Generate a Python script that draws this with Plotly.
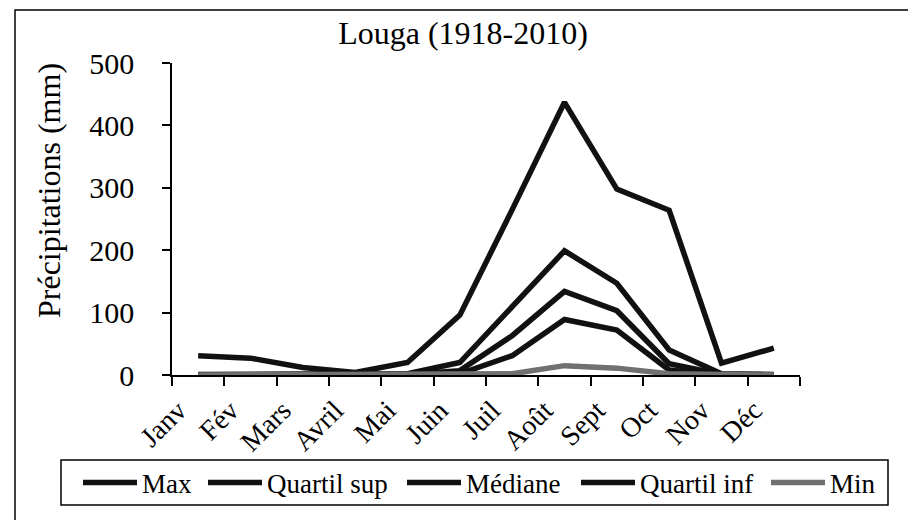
import plotly.graph_objects as go

months = ["Janv", "Fév", "Mars", "Avril", "Mai", "Juin", "Juil", "Août", "Sept", "Oct", "Nov", "Déc"]
max_vals = [31, 27, 12, 4, 20, 96, 265, 437, 298, 264, 19, 43]
q_sup_vals = [1, 1, 1, 0, 2, 20, 108, 199, 147, 40, 2, 1]
median_vals = [0, 0, 0, 0, 1, 7, 63, 134, 103, 18, 1, 0]
q_inf_vals = [0, 0, 0, 0, 0, 2, 31, 89, 72, 8, 0, 0]
min_vals = [0, 0, 0, 0, 0, 0, 2, 15, 11, 2, 0, 0]

series_names = ["Max", "Quartil sup", "Médiane", "Quartil inf", "Min"]
series_vals = [max_vals, q_sup_vals, median_vals, q_inf_vals, min_vals]
series_colors = ["#111111", "#111111", "#111111", "#111111", "#707070"]
legend_ids = ["legend", "legend2", "legend3", "legend4", "legend5"]
legend_left_px = [78, 203, 402, 576, 766]

FONT = "Times New Roman"

# page body has an 8px margin: figure is drawn 8px in and down
OFF = 8
W, H = 916 - OFF, 520 - OFF
L, T = 172 - OFF, 63 - OFF
R = W - (800 - OFF)
B = H - (375 - OFF)
pw, ph = W - L - R, H - T - B

def px(xr):
    return (xr - OFF - L) / pw

def py(yr):
    return (H - B - (yr - OFF)) / ph

fig = go.Figure()
for name, vals, col, lid in zip(series_names, series_vals, series_colors, legend_ids):
    fig.add_trace(go.Scatter(
        x=months, y=vals, name=name, mode="lines", legend=lid,
        line=dict(color=col, width=5.5),
    ))

legend_layouts = {}
for lid, lx in zip(legend_ids, legend_left_px):
    legend_layouts[lid] = dict(
        orientation="h", x=px(lx), xanchor="left", y=py(483), yanchor="middle",
        borderwidth=0, bgcolor="rgba(0,0,0,0)",
        font=dict(family=FONT, size=27, color="black"),
        itemwidth=54,
    )

fig.update_layout(
    width=W, height=H,
    margin=dict(l=L, r=R, t=T, b=B, autoexpand=False),
    paper_bgcolor="white", plot_bgcolor="white",
    font=dict(family=FONT, color="black", size=27),
    title=dict(text="Louga (1918-2010)", x=(463 - OFF) / W, xanchor="center",
               y=1 - (33 - OFF) / H, yanchor="middle",
               font=dict(family=FONT, size=32, color="black")),
    showlegend=True,
    xaxis=dict(type="category", showgrid=False, showline=True, linecolor="black", linewidth=1.5,
               ticks="outside", tickson="boundaries", ticklen=9, tickwidth=1.5, tickcolor="black",
               tickangle=-45, ticklabelstandoff=6, ticklabelshift=-20,
               tickfont=dict(family=FONT, size=28, color="black"),
               range=[-0.5, 11.5], zeroline=False),
    yaxis=dict(range=[0, 500], dtick=100, showgrid=False, showline=True, linecolor="black",
               linewidth=1.5, ticks="outside", ticklen=8, tickwidth=1.5, tickcolor="black",
               ticklabelstandoff=22,
               tickfont=dict(family=FONT, size=30, color="black"), zeroline=False),
    annotations=[dict(text="Précipitations (mm)", textangle=-90, xref="paper", yref="paper",
                      x=px(49), y=py(190), xanchor="center", yanchor="middle", showarrow=False,
                      font=dict(family=FONT, size=32, color="black"))],
    shapes=[
        dict(type="rect", xref="paper", yref="paper", x0=px(15), x1=px(930), y0=py(535), y1=py(10),
             line=dict(color="black", width=1.5), fillcolor="rgba(0,0,0,0)", layer="below"),
        dict(type="rect", xref="paper", yref="paper", x0=px(61), x1=px(888), y0=py(505), y1=py(460),
             line=dict(color="black", width=1.5), fillcolor="white", layer="below"),
    ],
    **legend_layouts,
)

fig.write_html("out.html")
